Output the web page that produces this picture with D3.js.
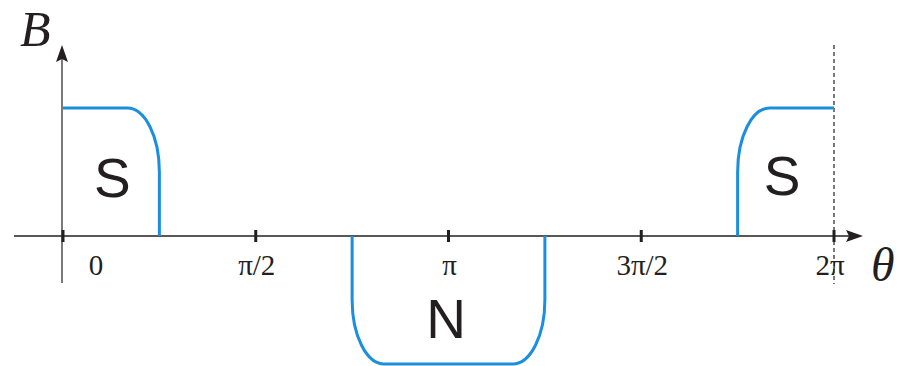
<!DOCTYPE html>
<html><head><meta charset="utf-8">
<script src="https://cdn.jsdelivr.net/npm/d3@7"></script>
<style>html,body{margin:0;padding:0;background:#fff;}svg{display:block;}</style>
</head><body>
<script>
// ---- data ----
const PI = Math.PI;
const tickValues = [0, PI/2, PI, 3*PI/2, 2*PI];
const tickLabels = ["0", "π/2", "π", "3π/2", "2π"];
// pole outlines in (θ, B) units; corners listed in "rounded" are rounded
const poleS1 = [[0, 1], [PI/4, 1], [PI/4, 0]];
const poleN  = [[3*PI/4, 0], [3*PI/4, -1], [5*PI/4, -1], [5*PI/4, 0]];
const poleS2 = [[7*PI/4, 0], [7*PI/4, 1], [2*PI, 1]];
const roundedS1 = [1], roundedN = [1, 2], roundedS2 = [1];
const cornerTheta = PI/12, cornerB = 0.5;
const poleLabels = [{t: "S", theta: PI/8 + 0.01, b: 0.305}, {t: "N", theta: PI - 0.02, b: -0.8}, {t: "S", theta: 15*PI/8 - 0.03, b: 0.32}];

const W = 902, H = 366;
const svg = d3.select("body").append("svg").attr("width", W).attr("height", H);
const x = d3.scaleLinear().domain([0, 2*PI]).range([63, 834]);
const y = d3.scaleLinear().domain([-1, 1]).range([364, 108]);
const ink = "#231f20", blue = "#1a8fe0";

// x axis line + arrow
svg.append("line").attr("x1", 14).attr("x2", 850).attr("y1", y(0)).attr("y2", y(0))
  .attr("stroke", ink).attr("stroke-width", 1.4);
svg.append("path").attr("d", `M${863},${y(0)} L${846},${y(0)-6} L${849},${y(0)} L${846},${y(0)+6}Z`).attr("fill", ink);
// y axis line + arrow
svg.append("line").attr("x1", 62).attr("x2", 62).attr("y1", 283).attr("y2", 58)
  .attr("stroke", ink).attr("stroke-width", 1.2);
svg.append("path").attr("d", `M62,45 L56,62 L62,59 L68,62Z`).attr("fill", ink);
// dashed line at 2π
svg.append("line").attr("x1", x(2*PI)).attr("x2", x(2*PI)).attr("y1", 45).attr("y2", 284)
  .attr("stroke", ink).attr("stroke-width", 1.2).attr("stroke-dasharray", "4,3");

// ticks
svg.selectAll("line.tick").data(tickValues).join("line").attr("class", "tick")
  .attr("x1", d => x(d)).attr("x2", d => x(d)).attr("y1", y(0) - 6).attr("y2", y(0) + 6)
  .attr("stroke", ink).attr("stroke-width", 3);
svg.selectAll("text.tl").data(tickValues).join("text").attr("class", "tl")
  .attr("x", (d, i) => i === 0 ? x(d) + 33 : (i === 4 ? x(d) - 4 : x(d) + 1)).attr("y", 275)
  .attr("text-anchor", "middle").attr("font-family", "Liberation Serif, serif").attr("font-size", 29)
  .attr("fill", ink).text((d, i) => tickLabels[i]);

// pole paths
const rx = x(cornerTheta) - x(0), ry = y(0) - y(cornerB);
const K = 0.5523;
function polePath(pts, rounded) {
  const p = pts.map(d => [x(d[0]), y(d[1])]);
  const path = d3.path();
  path.moveTo(p[0][0], p[0][1]);
  for (let i = 1; i < p.length; i++) {
    if (rounded.includes(i)) {
      const c = p[i], a = p[i-1], b = p[i+1];
      const da = [Math.sign(a[0]-c[0]), Math.sign(a[1]-c[1])];
      const db = [Math.sign(b[0]-c[0]), Math.sign(b[1]-c[1])];
      const s = [c[0] + da[0]*rx, c[1] + da[1]*ry];
      const e = [c[0] + db[0]*rx, c[1] + db[1]*ry];
      path.lineTo(s[0], s[1]);
      path.bezierCurveTo(s[0] + (c[0]-s[0])*K, s[1] + (c[1]-s[1])*K,
                         e[0] + (c[0]-e[0])*K, e[1] + (c[1]-e[1])*K, e[0], e[1]);
    } else path.lineTo(p[i][0], p[i][1]);
  }
  return path.toString();
}
[[poleS1, roundedS1], [poleN, roundedN], [poleS2, roundedS2]].forEach(([pts, r]) => {
  svg.append("path").attr("d", polePath(pts, r)).attr("fill", "none")
    .attr("stroke", blue).attr("stroke-width", 3);
});

// pole labels
svg.selectAll("text.pl").data(poleLabels).join("text").attr("class", "pl")
  .attr("x", d => x(d.theta)).attr("y", d => y(d.b)).attr("text-anchor", "middle")
  .attr("font-family", "Liberation Sans, Arial, sans-serif").attr("font-size", 55)
  .attr("fill", ink).text(d => d.t);

// axis titles
svg.append("text").attr("x", 20).attr("y", 46).attr("font-family", "Liberation Serif, serif")
  .attr("font-style", "italic").attr("font-size", 50).attr("fill", ink).text("B");
svg.append("text").attr("x", 871).attr("y", 281).attr("font-family", "Liberation Serif, serif")
  .attr("font-style", "italic").attr("font-size", 48).attr("fill", ink).text("θ");
</script>
</body></html>
